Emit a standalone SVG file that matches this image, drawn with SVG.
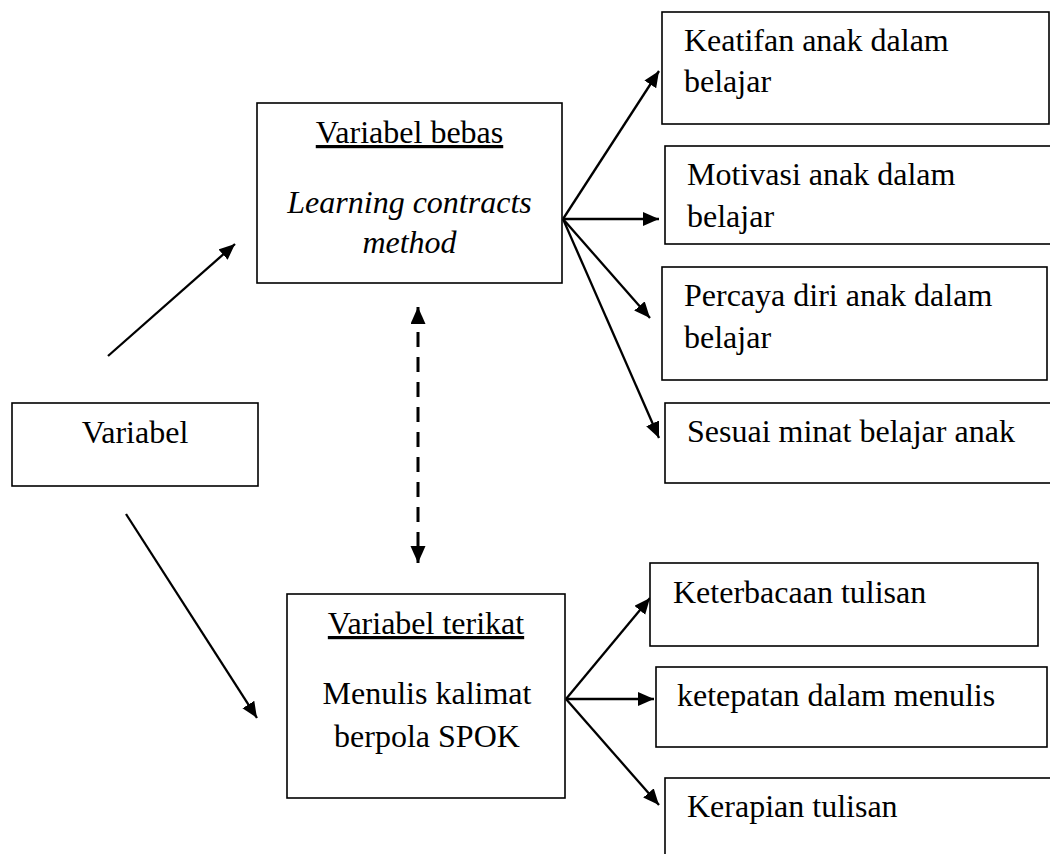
<svg xmlns="http://www.w3.org/2000/svg" width="1050" height="854" viewBox="0 0 1050 854">
<style>
  .box { fill: #fff; stroke: #000; stroke-width: 1.6; }
  .t { font-family: "Liberation Serif", "Times New Roman", serif; font-size: 32px; fill: #000; }
  .c { text-anchor: middle; }
  .i { font-style: italic; }
  .u { text-decoration: underline; }
  .arr { stroke: #000; stroke-width: 2.3; fill: none; marker-end: url(#ah); }
  .dash { stroke: #000; stroke-width: 3; fill: none; stroke-dasharray: 15 10; marker-end: url(#ah2); marker-start: url(#ah2); }
</style>
<defs>
  <marker id="ah" markerUnits="userSpaceOnUse" markerWidth="18" markerHeight="16" refX="16" refY="7" orient="auto">
    <path d="M0,0 L16,7 L0,14 z" fill="#000"/>
  </marker>
  <marker id="ah2" markerUnits="userSpaceOnUse" markerWidth="19" markerHeight="16" refX="17" refY="7.5" orient="auto-start-reverse">
    <path d="M0,0 L17,7.5 L0,15 z" fill="#000"/>
  </marker>
</defs>
<rect width="1050" height="854" fill="#fff"/>

<g id="connectors">
  <line class="arr" x1="108" y1="356" x2="235" y2="244"/>
  <line class="arr" x1="126" y1="514" x2="257" y2="718"/>
  <line class="dash" x1="418" y1="307" x2="418" y2="563"/>
  <line class="arr" x1="563" y1="219" x2="659" y2="71"/>
  <line class="arr" x1="563" y1="219" x2="659" y2="219"/>
  <line class="arr" x1="563" y1="219" x2="650" y2="318"/>
  <line class="arr" x1="563" y1="219" x2="659" y2="438"/>
  <line class="arr" x1="566" y1="699" x2="650" y2="598"/>
  <line class="arr" x1="566" y1="699" x2="654" y2="699"/>
  <line class="arr" x1="566" y1="699" x2="659" y2="805"/>
</g>

<g id="variabel">
  <rect class="box" x="12" y="403" width="246" height="83"/>
  <text class="t c" x="135" y="443">Variabel</text>
</g>

<g id="variabel-bebas">
  <rect class="box" x="257" y="103" width="305" height="180"/>
  <text class="t c u" x="409.5" y="143">Variabel bebas</text>
  <text class="t c i" x="409.5" y="213">Learning contracts</text>
  <text class="t c i" x="409.5" y="253">method</text>
</g>

<g id="variabel-terikat">
  <rect class="box" x="287" y="594" width="278" height="204"/>
  <text class="t c u" x="426" y="634">Variabel terikat</text>
  <text class="t c" x="427" y="704">Menulis kalimat</text>
  <text class="t c" x="427" y="747">berpola SPOK</text>
</g>

<g id="keatifan">
  <rect class="box" x="662" y="12" width="387" height="112"/>
  <text class="t" x="684" y="51">Keatifan anak dalam</text>
  <text class="t" x="684" y="92">belajar</text>
</g>

<g id="motivasi">
  <rect class="box" x="665" y="146" width="400" height="98"/>
  <text class="t" x="687" y="185">Motivasi anak dalam</text>
  <text class="t" x="687" y="227">belajar</text>
</g>

<g id="percaya">
  <rect class="box" x="662" y="267" width="385" height="113"/>
  <text class="t" x="684" y="306">Percaya diri anak dalam</text>
  <text class="t" x="684" y="348">belajar</text>
</g>

<g id="sesuai">
  <rect class="box" x="665" y="403" width="400" height="80"/>
  <text class="t" x="687" y="442">Sesuai minat belajar anak</text>
</g>

<g id="keterbacaan">
  <rect class="box" x="650" y="563" width="388" height="83"/>
  <text class="t" x="673" y="603">Keterbacaan tulisan</text>
</g>

<g id="ketepatan">
  <rect class="box" x="656" y="667" width="391" height="80"/>
  <text class="t" x="677" y="706">ketepatan dalam menulis</text>
</g>

<g id="kerapian">
  <rect class="box" x="665" y="778" width="400" height="100"/>
  <text class="t" x="687" y="817">Kerapian tulisan</text>
</g>
</svg>
